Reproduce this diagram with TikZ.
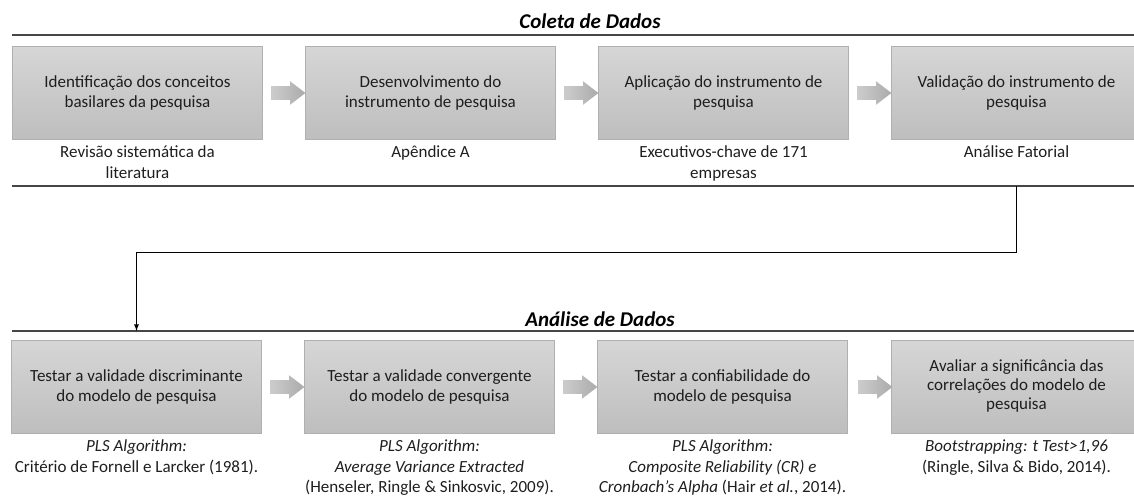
\documentclass[tikz,border=0pt]{standalone}
\usepackage{fontspec}
\setmainfont{Carlito}
\usetikzlibrary{arrows,shapes,shapes.arrows,positioning}
\tikzset{>=latex}

\definecolor{boxtop}{RGB}{214,214,214}
\definecolor{boxbottom}{RGB}{190,190,190}
\definecolor{boxline}{RGB}{176,176,176}
\definecolor{rulegray}{RGB}{70,70,70}
\definecolor{inkgray}{RGB}{30,30,30}

\tikzset{
	stagebox/.style={draw=boxline, line width=0.6pt, top color=boxtop, bottom color=boxbottom, minimum width=187.5pt, minimum height=69.75pt, align=center, inner sep=0pt, text=inkgray, font=\fontsize{12.75}{15}\selectfont},
	blockarrow/.style={single arrow, draw=none, left color=gray!40, right color=gray!66, inner xsep=0pt, inner ysep=4.875pt, minimum height=25.5pt, single arrow head extend=3.75pt, single arrow tip angle=75},
	note/.style={align=center, inner sep=0pt, text=inkgray, font=\fontsize{12.75}{15.5}\selectfont},
	phase/.style={inner sep=0pt, text=black, font=\fontsize{15.75}{18}\selectfont\bfseries\itshape},
	rule/.style={draw=rulegray, line width=1pt},
}

\begin{document}
\begin{tikzpicture}[x=0.75pt, y=-0.75pt]

	\clip (0,0) rectangle (1134,496);

	% Coleta de Dados

	\node[phase, anchor=base](coleta) at (590,28) {Coleta de Dados};

	\node[stagebox](b1) at (137.5,92.5) {Identificação dos conceitos\\ basilares da pesquisa};

	\node[stagebox](b2) at (430.5,92.5) {Desenvolvimento do\\ instrumento de pesquisa};

	\node[stagebox](b3) at (723.5,92.5) {Aplicação do instrumento de\\ pesquisa};

	\node[stagebox](b4) at (1016.5,92.5) {Validação do instrumento de\\ pesquisa};

	\node[blockarrow](a1) at (284,93) {};
	\node[blockarrow](a2) at (577,93) {};
	\node[blockarrow](a3) at (870,93) {};

	\node[note, below=4.5pt of b1](n1) {Revisão sistemática da\\ literatura};
	\node[note, below=4.5pt of b2](n2) {Apêndice A};
	\node[note, below=4.5pt of b3](n3) {Executivos-chave de 171\\ empresas};
	\node[note, below=4.5pt of b4](n4) {Análise Fatorial};

	% Análise de Dados

	\node[phase, anchor=base](analise) at (600,326) {Análise de Dados};

	\node[stagebox](d1) at (136.5,386.5) {Testar a validade discriminante\\ do modelo de pesquisa};

	\node[stagebox](d2) at (429.5,386.5) {Testar a validade convergente\\ do modelo de pesquisa};

	\node[stagebox](d3) at (722.5,386.5) {Testar a confiabilidade do\\ modelo de pesquisa};

	\node[stagebox](d4) at (1016.5,386.5) {\raisebox{3pt}{\shortstack{Avaliar a significância das\\ correlações do modelo de\\ pesquisa}}};

	\node[blockarrow](e1) at (283,387) {};
	\node[blockarrow](e2) at (576,387) {};
	\node[blockarrow](e3) at (871,387) {};

	\node[note, below=4.5pt of d1](m1) {\textit{PLS Algorithm:}\\ Critério de Fornell e Larcker (1981).};
	\node[note, below=4.5pt of d2](m2) {\textit{PLS Algorithm:}\\ \textit{Average Variance Extracted}\\ (Henseler, Ringle \& Sinkosvic, 2009).};
	\node[note, below=4.5pt of d3](m3) {\textit{PLS Algorithm:}\\ \textit{Composite Reliability (CR) e}\\ \textit{Cronbach’s Alpha} (Hair \textit{et al.}, 2014).};
	\node[note, below=4.5pt of d4](m4) {\textit{Bootstrapping: t Test>1,96}\\ (Ringle, Silva \& Bido, 2014).};

	% Rules

	\coordinate (sep1) at (12,35);
	\coordinate (sep2) at (12,186);
	\coordinate (mid) at (12,252);
	\coordinate (sep3) at (12,331);

	\draw[rule] (sep1) -- (1134,35);
	\draw[rule] (sep2) -- (1134,186);
	\draw[rule] (sep3) -- (1134,331);

	% Arrows

	\draw[->, line width=0.75pt] (b4 |- sep2) |- (d1 |- mid) -- (d1 |- sep3);

\end{tikzpicture}
\end{document}
